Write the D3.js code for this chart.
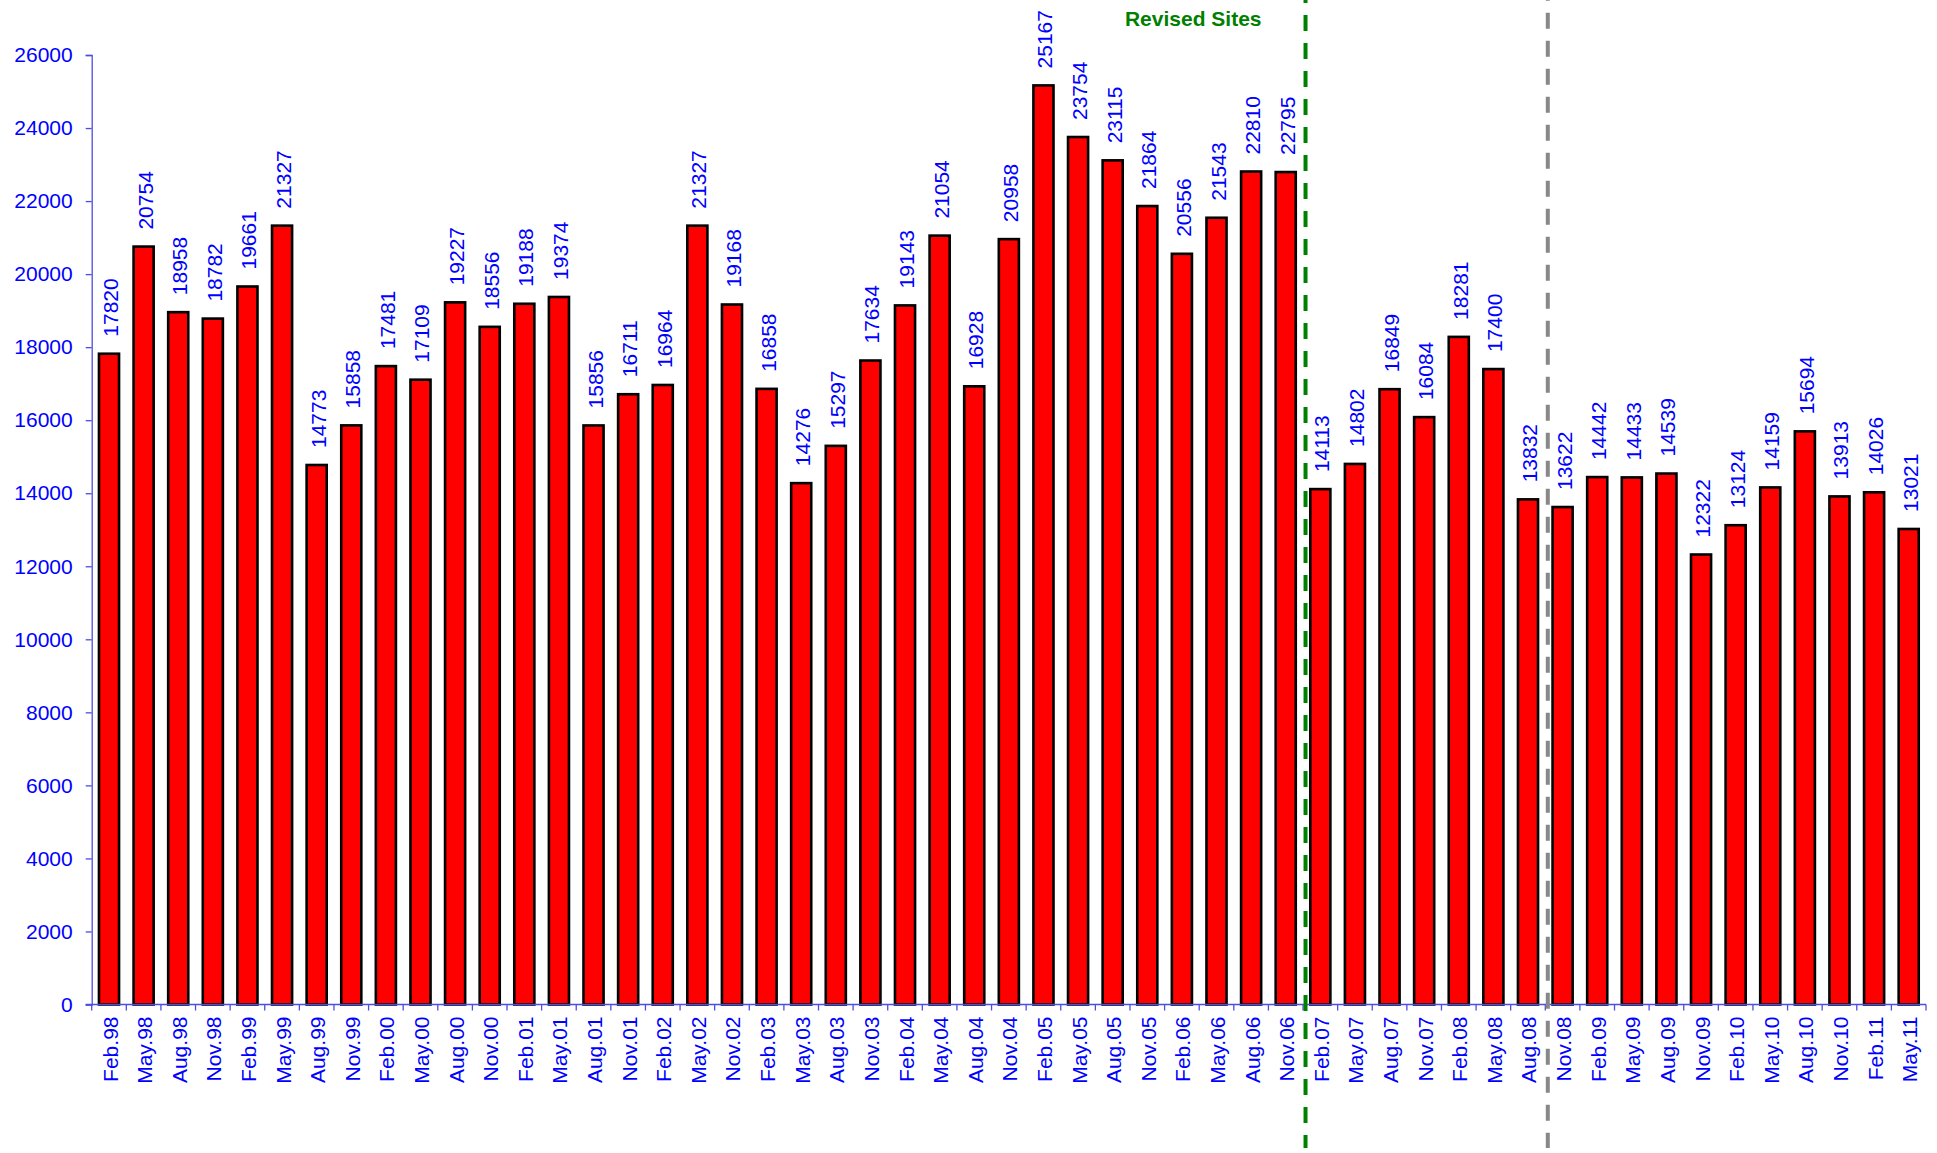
<!DOCTYPE html>
<html>
<head>
<meta charset="utf-8">
<script src="https://cdn.jsdelivr.net/npm/d3@7"></script>
<style>
  html, body { margin: 0; padding: 0; background: #fff; }
  svg { display: block; }
  text { font-family: "Liberation Sans", Arial, sans-serif; }
</style>
</head>
<body>
<div id="chart"></div>
<script>
const categories = ["Feb.98","May.98","Aug.98","Nov.98","Feb.99","May.99","Aug.99","Nov.99",
  "Feb.00","May.00","Aug.00","Nov.00","Feb.01","May.01","Aug.01","Nov.01",
  "Feb.02","May.02","Nov.02","Feb.03","May.03","Aug.03","Nov.03",
  "Feb.04","May.04","Aug.04","Nov.04","Feb.05","May.05","Aug.05","Nov.05",
  "Feb.06","May.06","Aug.06","Nov.06","Feb.07","May.07","Aug.07","Nov.07",
  "Feb.08","May.08","Aug.08","Nov.08","Feb.09","May.09","Aug.09","Nov.09",
  "Feb.10","May.10","Aug.10","Nov.10","Feb.11","May.11"];
const values = [17820,20754,18958,18782,19661,21327,14773,15858,
  17481,17109,19227,18556,19188,19374,15856,16711,
  16964,21327,19168,16858,14276,15297,17634,
  19143,21054,16928,20958,25167,23754,23115,21864,
  20556,21543,22810,22795,14113,14802,16849,16084,
  18281,17400,13832,13622,14442,14433,14539,12322,
  13124,14159,15694,13913,14026,13021];
const yTicks = [0,2000,4000,6000,8000,10000,12000,14000,16000,18000,20000,22000,24000,26000];
const markers = [
  {after: "Nov.06", color: "#008000", label: "Revised Sites"},
  {after: "Aug.08", color: "#888888", label: ""}
];

(function () {
const W = 1937, H = 1153;
const mLeft = 91.7, mRight = 1926, mTop = 55, mBottom = 1004.5;

const svg = d3.select("#chart").append("svg").attr("width", W).attr("height", H);

const x = d3.scaleBand().domain(categories).range([mLeft, mRight]).paddingInner(0.42).paddingOuter(0.21);
const xb = d3.scaleBand().domain(categories).range([mLeft, mRight]);
const y = d3.scaleLinear().domain([0, 26000]).range([mBottom, mTop]);

const axisColor = "#4d4de0";
const textColor = "#0000ff";

// bars
svg.append("g").selectAll("rect").data(values).join("rect")
  .attr("x", (d, i) => x(categories[i]))
  .attr("y", d => y(d))
  .attr("width", x.bandwidth())
  .attr("height", d => y(0) - y(d))
  .attr("fill", "#ff0000")
  .attr("stroke", "#000")
  .attr("stroke-width", 2.6);

// y axis
const yAxis = svg.append("g").attr("transform", `translate(${mLeft},0)`)
  .call(d3.axisLeft(y).tickValues(yTicks).tickFormat(d3.format("d")).tickSize(6).tickPadding(13));
yAxis.select(".domain").attr("stroke", axisColor).attr("stroke-width", 1.3);
yAxis.selectAll(".tick line").attr("stroke", axisColor).attr("stroke-width", 1.3);
yAxis.selectAll(".tick text").attr("fill", textColor).attr("font-size", 21)
  .attr("font-family", "'Liberation Sans', Arial, sans-serif");

// x axis: baseline + ticks at band boundaries
const xg = svg.append("g");
xg.append("line").attr("x1", mLeft - 6).attr("x2", mRight).attr("y1", mBottom).attr("y2", mBottom)
  .attr("stroke", axisColor).attr("stroke-width", 1.3);
xg.selectAll("line.tk").data(categories.concat(["_end"])).join("line").attr("class", "tk")
  .attr("x1", (d, i) => i < categories.length ? xb(d) : mRight)
  .attr("x2", (d, i) => i < categories.length ? xb(d) : mRight)
  .attr("y1", mBottom).attr("y2", mBottom + 6)
  .attr("stroke", axisColor).attr("stroke-width", 1.3);
xg.selectAll("text").data(categories).join("text")
  .attr("transform", d => `translate(${xb(d) + xb.bandwidth() / 2 + 8.5},${mBottom + 12}) rotate(-90)`)
  .attr("text-anchor", "end")
  .attr("fill", textColor)
  .attr("font-size", 21)
  .text(d => d);

// value labels
svg.append("g").selectAll("text").data(values).join("text")
  .attr("transform", (d, i) => `translate(${xb(categories[i]) + xb.bandwidth() / 2 + 9},${y(d) - 17}) rotate(-90)`)
  .attr("text-anchor", "start")
  .attr("fill", textColor)
  .attr("font-size", 21)
  .text(d => d);

// dashed marker lines
markers.forEach((m, k) => {
  const idx = categories.indexOf(m.after);
  const xpos = xb(categories[idx]) + xb.bandwidth() + 2.5;
  svg.append("line")
    .attr("x1", xpos).attr("x2", xpos).attr("y1", 0).attr("y2", 1148)
    .attr("stroke", m.color).attr("stroke-width", 4)
    .attr("stroke-dasharray", "16,12")
    .attr("stroke-dashoffset", k === 0 ? 13 : 15.3);
  if (m.label) {
    svg.append("text")
      .attr("x", xpos - 44).attr("y", 26)
      .attr("text-anchor", "end")
      .attr("fill", m.color)
      .attr("font-size", 21)
      .attr("font-weight", "bold")
      .text(m.label);
  }
});
})();
</script>
</body>
</html>
